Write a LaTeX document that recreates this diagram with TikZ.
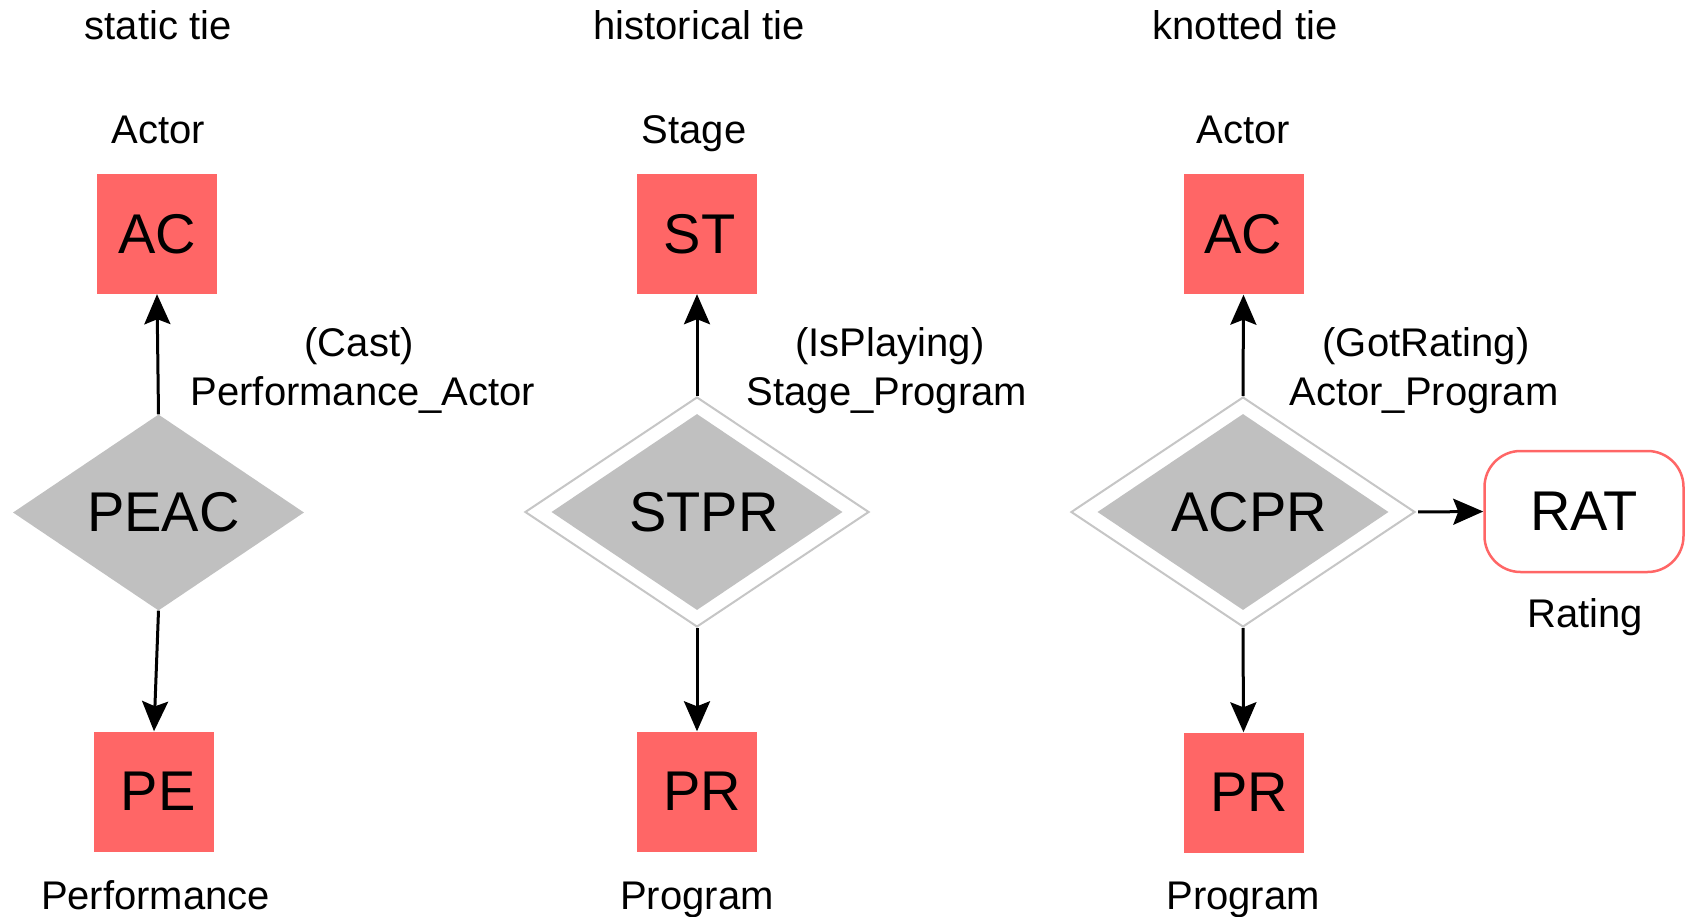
\documentclass[tikz,border=0pt]{standalone}
\usepackage{fontspec}
\setmainfont{Liberation Sans}
\usetikzlibrary{shapes.geometric,arrows.meta}
\definecolor{entred}{HTML}{FF6666}
\definecolor{relgray}{HTML}{C0C0C0}
\definecolor{framegray}{HTML}{C6C6C6}
\newcommand{\lpad}[1]{\hspace*{#1pt}}
\begin{document}
\begin{tikzpicture}[x=1pt,y=-1pt,
  entity/.style={fill=entred, minimum width=120pt, minimum height=120pt,
    inner sep=0pt, font=\fontsize{56}{60}\selectfont},
  relation/.style={diamond, aspect=1.5, fill=relgray, minimum width=291pt,
    minimum height=196pt, inner sep=0pt, font=\fontsize{56}{60}\selectfont},
  relframe/.style={diamond, aspect=1.5, draw=framegray, line width=2pt, fill=white,
    minimum width=344pt, minimum height=230pt, inner sep=0pt},
  attrib/.style={rectangle, rounded corners=36pt, draw=entred, line width=2.5pt,
    fill=white, minimum width=199pt, minimum height=121pt, inner sep=0pt,
    font=\fontsize{56}{60}\selectfont},
  caption/.style={anchor=base, inner sep=0pt, font=\fontsize{40}{40}\selectfont},
  link/.style={-{Stealth[length=30pt,width=26pt,inset=5pt]}, line width=3pt},
]
\useasboundingbox (0,0) rectangle (1686,917);

% ---------- static tie ----------
\node[caption] (title1) at (158,40) {static tie};
\node[caption] (lblac1) at (158,144) {Actor};
\node[entity] (ac1) at (157,234) {AC};
\node[relation] (peac) at (158.5,512.5) {\lpad{10}PEAC};
\node[entity] (pe) at (154,791.5) {\lpad{8}PE};
\node[caption] (lblpe) at (155.5,909) {Performance};
\node[caption] (rn1) at (359,356) {(Cast)};
\node[caption] (rl1) at (363,405) {Performance\_Actor};
\draw[link] (peac.north) -- (ac1.south);
\draw[link] (peac.south) -- (pe.north);

% ---------- historical tie ----------
\node[caption] (title2) at (699,40) {historical tie};
\node[caption] (lblst) at (694,144) {Stage};
\node[entity] (st) at (697,234) {\lpad{5}ST};
\node[relframe] (stprframe) at (697,512) {};
\node[relation] (stpr) at (697,512) {\lpad{14}STPR};
\node[entity] (pr2) at (697,791.5) {\lpad{10}PR};
\node[caption] (lblpr2) at (697,909) {Program};
\node[caption] (rn2) at (890,356) {(IsPlaying)};
\node[caption] (rl2) at (887,405) {Stage\_Program};
\draw[link] (stprframe.north) -- (st.south);
\draw[link] (stprframe.south) -- (pr2.north);

% ---------- knotted tie ----------
\node[caption] (title3) at (1245,40) {knotted tie};
\node[caption] (lblac3) at (1243.5,144) {Actor};
\node[entity] (ac3) at (1243.5,234.5) {AC};
\node[relframe] (acprframe) at (1243,512) {};
\node[relation] (acpr) at (1243,512) {\lpad{12}ACPR};
\node[entity] (pr3) at (1243.5,792.5) {\lpad{12}PR};
\node[caption] (lblpr3) at (1243,909) {Program};
\node[caption] (rn3) at (1426,356) {(GotRating)};
\node[caption] (rl3) at (1424,405) {Actor\_Program};
\node[attrib] (rat) at (1584,511.5) {RAT};
\node[caption] (lblrat) at (1585,627) {Rating};
\draw[link] (acprframe.north) -- (ac3.south);
\draw[link] (acprframe.south) -- (pr3.north);
\draw[link, shorten <=2pt] (acprframe.east) -- (rat.west);
\end{tikzpicture}
\end{document}
